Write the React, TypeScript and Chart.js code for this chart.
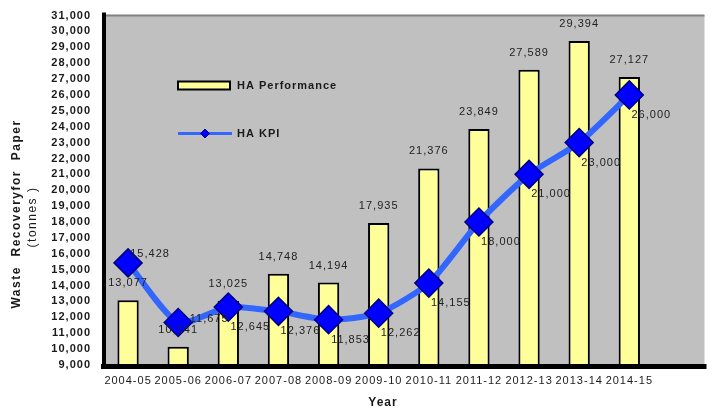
import React, { useEffect, useRef } from 'react';
import { Chart, registerables } from 'chart.js';

Chart.register(...registerables);

// ---- data ----
const categories = ['2004-05', '2005-06', '2006-07', '2007-08', '2008-09', '2009-10', '2010-11', '2011-12', '2012-13', '2013-14', '2014-15'];
const haPerformance = [13077, 10141, 13025, 14748, 14194, 17935, 21376, 23849, 27589, 29394, 27127];
const haKpi = [15428, 11675, 12645, 12376, 11853, 12262, 14155, 18000, 21000, 23000, 26000];
const seriesNames = ['HA Performance', 'HA KPI'];
const yMin = 9000;
const yMax = 31000;
const yStep = 1000;
const yTitleLines = ['Waste  Recoveryfor  Paper', '(tonnes )'];
const xTitle = 'Year';

const FONT = '"Liberation Sans", Arial, sans-serif';
const fmt = (v: number) => v.toLocaleString('en-US');

const BAR_FILL = '#FFFF99';
const LINE_COLOR = '#3366FF';
const DIAMOND_FILL = '#0000FF';
const DIAMOND_BORDER = '#000080';
const PLOT_BG = '#C0C0C0';
const TEXT = '#1a1a1a';

// label offset style for the KPI labels (default: below-right)
const kpiLabelStyle: Record<number, { dx: number; dy: number }> = {
  0: { dx: 22, dy: -9 },
  1: { dx: 31, dy: -4 },
};

function diamond(ctx: CanvasRenderingContext2D, x: number, y: number, r: number) {
  ctx.beginPath();
  ctx.moveTo(x - r, y);
  ctx.lineTo(x, y - r);
  ctx.lineTo(x + r, y);
  ctx.lineTo(x, y + r);
  ctx.closePath();
}

const decorPlugin = {
  id: 'decor',
  beforeDraw(chart: any) {
    const ctx: CanvasRenderingContext2D = chart.ctx;
    const a = chart.chartArea;
    ctx.save();
    ctx.fillStyle = '#ffffff';
    ctx.fillRect(0, 0, chart.width, chart.height);
    ctx.fillStyle = PLOT_BG;
    ctx.fillRect(a.left, a.top, a.right - a.left, a.bottom - a.top);
    ctx.restore();
    (ctx as any).letterSpacing = '1px';
  },
  afterDatasetsDraw(chart: any) {
    const ctx: CanvasRenderingContext2D = chart.ctx;
    const a = chart.chartArea;
    ctx.save();
    // frame
    ctx.fillStyle = '#808080';
    ctx.fillRect(a.left, a.top - 1, a.right - a.left, 2);
    ctx.fillStyle = '#000000';
    ctx.fillRect(a.left - 1, a.top - 3, 4, a.bottom - a.top + 7);
    ctx.fillRect(a.left - 2, a.bottom - 1, a.right - a.left + 4, 5);

    (ctx as any).letterSpacing = '1px';
    ctx.fillStyle = '#222222';
    ctx.font = `11px ${FONT}`;
    ctx.textAlign = 'center';
    ctx.textBaseline = 'middle';
    // bar labels
    const barMeta = chart.getDatasetMeta(1);
    barMeta.data.forEach((el: any, i: number) => {
      if (haPerformance[i] == null) return;
      ctx.fillText(fmt(haPerformance[i]), el.x, el.y - 17);
    });
    // kpi labels
    const lineMeta = chart.getDatasetMeta(0);
    lineMeta.data.forEach((el: any, i: number) => {
      if (haKpi[i] == null) return;
      const o = kpiLabelStyle[i] || { dx: 22, dy: 20 };
      ctx.fillText(fmt(haKpi[i]), el.x + o.dx, el.y + o.dy);
    });

    // legend
    const lx = a.left + 75;
    ctx.fillStyle = BAR_FILL;
    ctx.fillRect(lx, a.top + 66, 52, 8);
    ctx.strokeStyle = '#000';
    ctx.lineWidth = 2;
    ctx.strokeRect(lx, a.top + 66, 52, 8);
    ctx.strokeStyle = LINE_COLOR;
    ctx.lineWidth = 3;
    ctx.beginPath();
    ctx.moveTo(lx, a.top + 118);
    ctx.lineTo(lx + 54, a.top + 118);
    ctx.stroke();
    diamond(ctx, lx + 27, a.top + 118, 4.5);
    ctx.fillStyle = DIAMOND_FILL;
    ctx.fill();
    ctx.lineWidth = 1;
    ctx.strokeStyle = DIAMOND_BORDER;
    ctx.stroke();
    ctx.fillStyle = TEXT;
    ctx.font = `bold 11px ${FONT}`;
    ctx.textAlign = 'left';
    ctx.fillText(seriesNames[0], lx + 59, a.top + 70);
    ctx.fillText(seriesNames[1], lx + 59, a.top + 118);

    // axis titles
    ctx.textAlign = 'center';
    ctx.font = `bold 12px ${FONT}`;
    ctx.fillText(xTitle, 383, 403);
    (ctx as any).letterSpacing = '1.5px';
    ctx.save();
    ctx.translate(17, 214);
    ctx.rotate(-Math.PI / 2);
    ctx.fillText(yTitleLines[0], 0, 0);
    ctx.restore();
    ctx.save();
    ctx.font = `12px ${FONT}`;
    ctx.translate(33, 217);
    ctx.rotate(-Math.PI / 2);
    ctx.fillText(yTitleLines[1], 0, 0);
    ctx.restore();
    ctx.restore();
    (ctx as any).letterSpacing = '1px';
  },
};

export default function App() {
  const ref = useRef<HTMLCanvasElement>(null);
  useEffect(() => {
    if (!ref.current) return;
    const chart = new Chart(ref.current, {
      type: 'bar',
      data: {
        labels: [...categories, ''],
        datasets: [
          {
            type: 'line',
            label: seriesNames[1],
            data: haKpi,
            order: 0,
            borderColor: LINE_COLOR,
            borderWidth: 6,
            tension: 0.22,
            fill: false,
            pointStyle: 'rectRot',
            pointRadius: 14,
            pointHoverRadius: 14,
            pointBackgroundColor: DIAMOND_FILL,
            pointBorderColor: DIAMOND_BORDER,
            pointBorderWidth: 1.5,
          } as any,
          {
            type: 'bar',
            label: seriesNames[0],
            data: haPerformance,
            order: 1,
            backgroundColor: BAR_FILL,
            borderColor: '#000000',
            borderWidth: 2,
            barPercentage: 0.425,
            categoryPercentage: 1,
          } as any,
        ],
      },
      options: {
        responsive: false,
        animation: false,
        devicePixelRatio: 1,
        layout: { padding: { top: 14, right: 3, left: 0, bottom: 0 } },
        plugins: {
          legend: { display: false },
          tooltip: { enabled: false },
          title: { display: false },
        },
        scales: {
          x: {
            type: 'category',
            offset: true,
            grid: { display: false, drawTicks: false },
            border: { display: false },
            ticks: {
              autoSkip: false,
              maxRotation: 0,
              minRotation: 0,
              padding: 9,
              color: TEXT,
              font: { family: FONT, size: 11 },
            },
            afterFit: (s: any) => {
              s.height = 44;
              s.paddingLeft = 0;
              s.paddingRight = 0;
            },
          },
          y: {
            type: 'linear',
            min: yMin,
            max: yMax,
            grid: { display: false, drawTicks: false },
            border: { display: false },
            ticks: {
              stepSize: yStep,
              autoSkip: false,
              padding: 12,
              color: TEXT,
              font: { family: FONT, size: 11, weight: 'bold' },
              callback: (v: any) => fmt(Number(v)),
            },
            afterFit: (s: any) => {
              s.width = 103;
              s.paddingTop = 0;
              s.paddingBottom = 0;
            },
          },
        },
      } as any,
      plugins: [decorPlugin],
    });
    return () => chart.destroy();
  }, []);
  return (
    <div style={{ position: 'absolute', left: 0, top: 0, width: 714, height: 409, overflow: 'hidden', background: '#fff' }}>
      <canvas ref={ref} width={720} height={409} style={{ display: 'block', width: 720, height: 409 }} />
    </div>
  );
}
